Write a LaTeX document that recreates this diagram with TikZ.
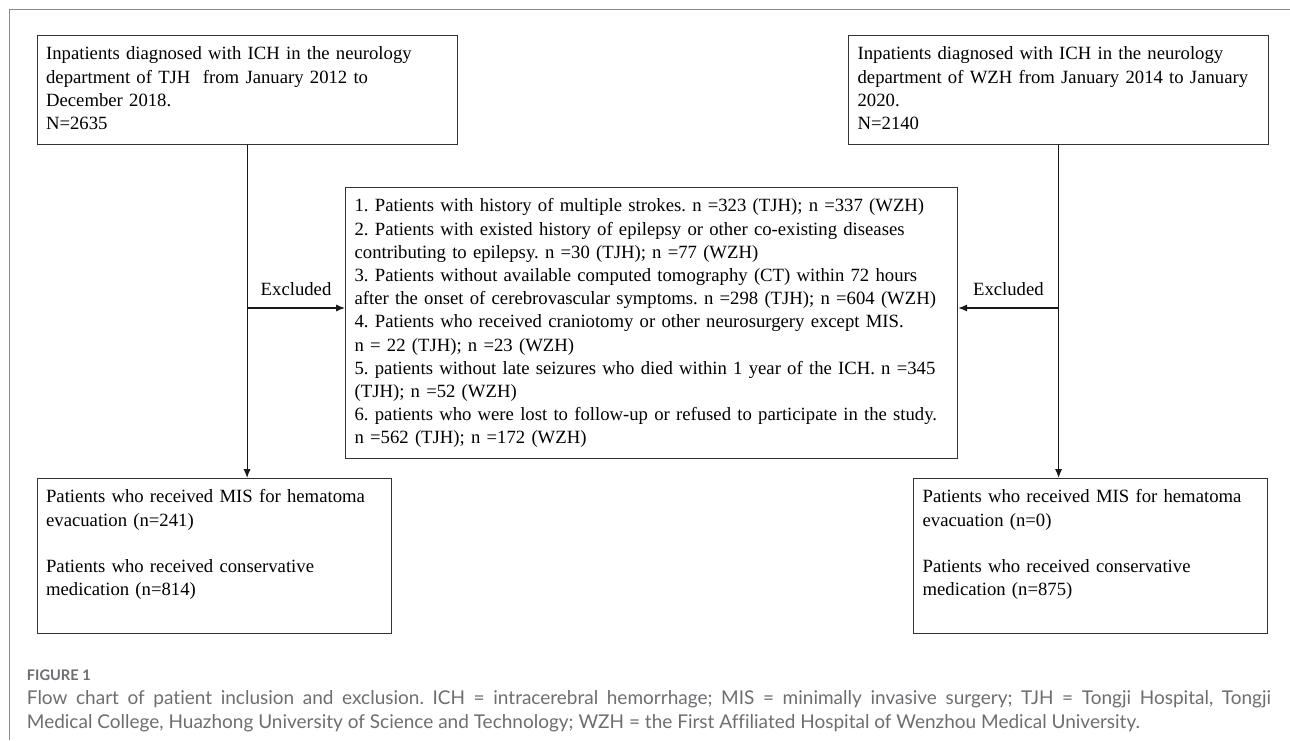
\documentclass[tikz,border=0pt]{standalone}
\usepackage{fontspec}
\setmainfont{Liberation Serif}
\newfontfamily\capfont[Ligatures=NoCommon]{Lato}
\usetikzlibrary{arrows.meta, calc}

\definecolor{boxline}{HTML}{333333}
\definecolor{capgray}{HTML}{6D6E71}
\definecolor{framegray}{HTML}{8A8A8A}

\newcommand{\boxfont}{\fontsize{9.35}{11.6}\selectfont\frenchspacing\hyphenpenalty=10000\exhyphenpenalty=10000}

\tikzset{
    box/.style={draw=boxline, line width=0.6pt, rectangle, anchor=north west,
        align=left, inner xsep=4.5pt, inner ysep=4pt, font=\boxfont},
    flow/.style={draw=black!90, line width=0.6pt, -{Latex[length=4.5pt, width=3.6pt]}},
    excllabel/.style={midway, above, inner ysep=6pt, font=\boxfont},
}

\begin{document}
\frenchspacing
\begin{tikzpicture}[x=0.5pt, y=-0.5pt]
    \useasboundingbox (0,0) rectangle (1290,740);
    \draw[framegray, line width=0.5pt] (1290,9) -- (9,9) -- (9,740);

    \node[box, text width=201pt] (tjh) at (36.5,35) {\strut Inpatients diagnosed with ICH in the neurology\\
        department of TJH\ \ from January 2012 to\\
        December 2018.\\
        N=2635\strut};
    \node[box, text width=201pt] (wzh) at (848,35) {\strut Inpatients diagnosed with ICH in the neurology\\
        department of WZH from January 2014 to January\\
        2020.\\
        N=2140\strut};
    \node[box, text width=297pt] (excl) at (345,187) {\strut 1. Patients with history of multiple strokes. n =323 (TJH); n =337 (WZH)\\
        2. Patients with existed history of epilepsy or other co-existing diseases\\
        contributing to epilepsy. n =30 (TJH); n =77 (WZH)\\
        3. Patients without available computed tomography (CT) within 72 hours\\
        after the onset of cerebrovascular symptoms. n =298 (TJH); n =604 (WZH)\\
        4. Patients who received craniotomy or other neurosurgery except MIS.\\
        n = 22 (TJH); n =23 (WZH)\\
        5. patients without late seizures who died within 1 year of the ICH. n =345\\
        (TJH); n =52 (WZH)\\
        6. patients who were lost to follow-up or refused to participate in the study.\\
        n =562 (TJH); n =172 (WZH)\strut};
    \node[box, text width=168pt] (lmis) at (36.5,478) {\strut Patients who received MIS for hematoma\\
        evacuation (n=241)\\[11.6pt]
        Patients who received conservative\\
        medication (n=814)\\ \strut};
    \node[box, text width=168pt] (rmis) at (913,478) {\strut Patients who received MIS for hematoma\\
        evacuation (n=0)\\[11.6pt]
        Patients who received conservative\\
        medication (n=875)\\ \strut};

    \coordinate (exclrow) at (0,308);
    \draw[flow] (tjh.south) -- (tjh.south |- lmis.north);
    \draw[flow] (wzh.south) -- (wzh.south |- rmis.north);
    \draw[flow] (tjh.south |- exclrow) -- (excl.west |- exclrow) node[excllabel] {Excluded};
    \draw[flow] (wzh.south |- exclrow) -- (excl.east |- exclrow) node[excllabel] {Excluded};

    \node[anchor=west, inner sep=0pt, text=capgray, font=\capfont\bfseries\fontsize{7.3}{9}\selectfont] (figlbl) at (26.5,675) {FIGURE 1};
    \node[anchor=north west, inner sep=0pt, text width=622pt, align=justify, text=capgray,
        font=\capfont\fontsize{9.5}{12}\selectfont\frenchspacing] (figcap) at (26.5,687) {\strut Flow chart of patient inclusion and exclusion. ICH = intracerebral hemorrhage; MIS = minimally invasive surgery; TJH = Tongji Hospital, Tongji\linebreak
        Medical College, Huazhong University of Science and Technology; WZH = the First Affiliated Hospital of Wenzhou Medical University.};
\end{tikzpicture}
\end{document}
